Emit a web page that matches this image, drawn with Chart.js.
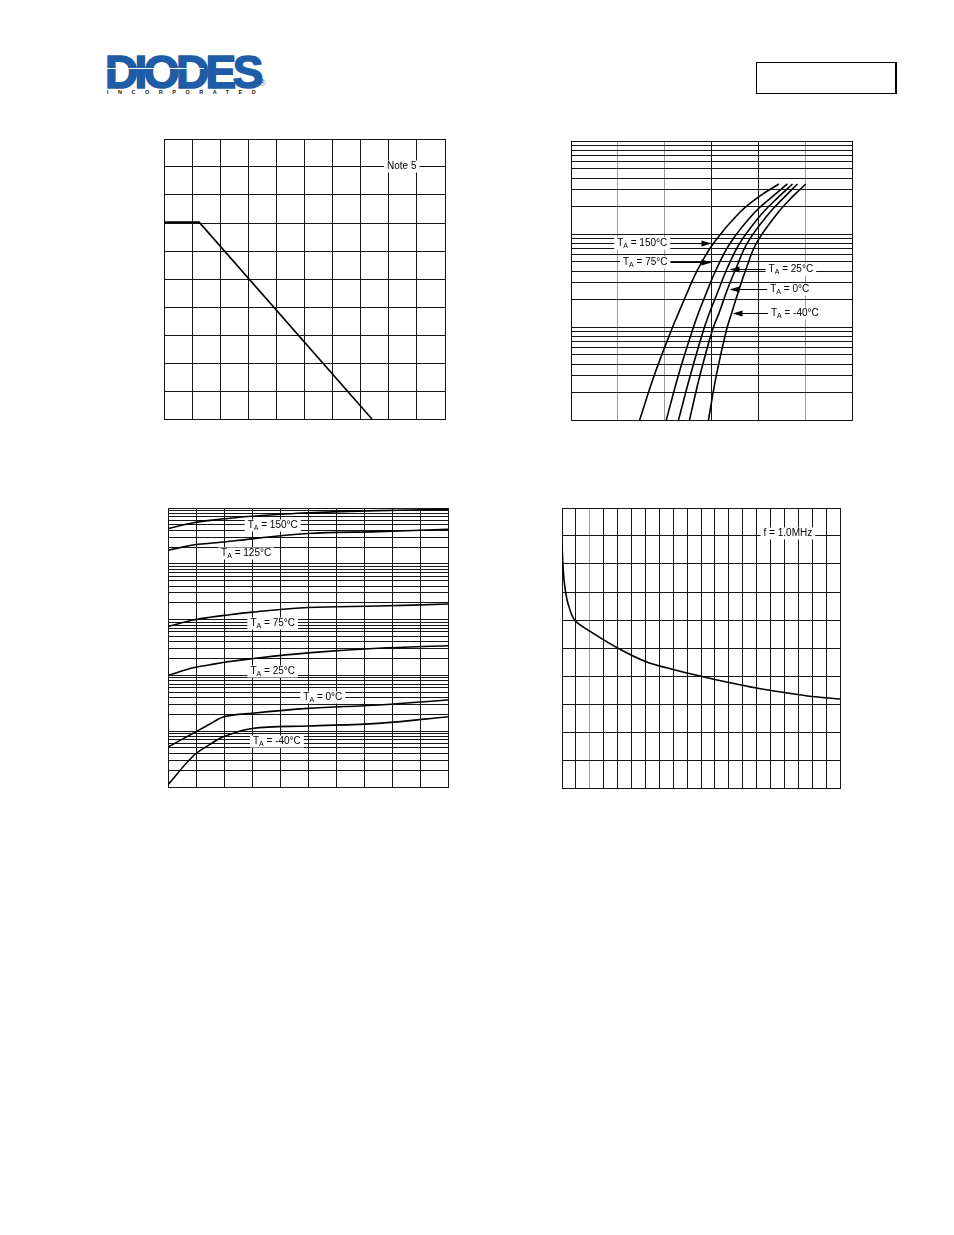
<!DOCTYPE html>
<html>
<head>
<meta charset="utf-8">
<script src="https://cdn.jsdelivr.net/npm/chart.js@4.4.1/dist/chart.umd.min.js"></script>
<style>
html,body{margin:0;padding:0;background:#fff;}
body{width:954px;height:1235px;position:relative;overflow:hidden;font-family:"Liberation Sans",Arial,sans-serif;}
.cw{position:absolute;}
.cw canvas{display:block;}
#logo{position:absolute;left:105px;top:49px;font-weight:bold;font-size:46px;line-height:46px;color:#1f5ca6;-webkit-text-stroke:1.6px #1f5ca6;letter-spacing:-3.6px;white-space:nowrap;}
#stripe{position:absolute;left:104px;top:68px;width:100px;height:1px;background:#fff;}
#inc{position:absolute;left:107px;top:89px;font-weight:bold;font-size:5.5px;line-height:6px;color:#222;letter-spacing:9.5px;white-space:nowrap;}
#reg{position:absolute;left:259px;top:79px;font-size:9px;line-height:9px;color:#1f5ca6;}
#pbox{position:absolute;left:756px;top:62px;width:138px;height:30px;border:1px solid #000;border-right-width:2px;}
</style>
</head>
<body>
<div id="logo">DIODES</div>
<div id="stripe"></div>
<div id="inc">INCORPORATED</div>
<div id="reg">®</div>
<div id="pbox"></div>

<div class="cw" style="left:160px;top:135px;"><canvas id="c1" width="289" height="288"></canvas></div>
<div class="cw" style="left:567px;top:137px;"><canvas id="c2" width="289" height="287"></canvas></div>
<div class="cw" style="left:164px;top:504px;"><canvas id="c3" width="288" height="287"></canvas></div>
<div class="cw" style="left:558px;top:504px;"><canvas id="c4" width="286" height="288"></canvas></div>

<script>
// ---------------- DATA ----------------
// Chart 1: power derating
const deratingTemp = [0, 25, 148];
const deratingPower = [703, 703, 0];
const noteText = 'Note 5';

// Chart 2: forward characteristics (current levels shared, voltage per temperature)
const fwdCurrent = [1, 3.05, 9.3, 14.1, 25, 41, 80.6, 167, 252, 345];
const fwdV150 = [0.293, 0.356, 0.429, 0.459, 0.501, 0.540, 0.610, 0.717, 0.803, 0.888];
const fwdV75  = [0.407, 0.459, 0.519, 0.544, 0.583, 0.619, 0.681, 0.781, 0.860, 0.924];
const fwdV25  = [0.459, 0.510, 0.566, 0.591, 0.630, 0.664, 0.722, 0.817, 0.888, 0.946];
const fwdV0   = [0.506, 0.551, 0.604, 0.632, 0.667, 0.702, 0.754, 0.846, 0.913, 0.967];
const fwdVm40 = [0.587, 0.621, 0.664, 0.686, 0.717, 0.746, 0.793, 0.882, 0.946, 1.003];
const fwdTemps = ['150°C', '75°C', '25°C', '0°C', '-40°C'];

// Chart 3: reverse current vs reverse voltage
const revVoltage = [0, 9, 15, 20, 30, 50, 75, 100];
const revI150 = [43, 54.5, 60, 64, 71, 82, 89.6, 94.8];
const revI125 = [17.5, 21.7, 23.3, 24.6, 28, 35, 37.7, 41.5];
const revI75  = [0.75, 0.98, 1.1, 1.19, 1.36, 1.65, 1.75, 1.9];
const revI25  = [0.1, 0.137, 0.155, 0.172, 0.2, 0.253, 0.306, 0.34];
const revI0   = [0.0052, 0.0092, 0.0135, 0.0182, 0.021, 0.0256, 0.0295, 0.0362];
const revIm40 = [0.0011, 0.0036, 0.0058, 0.0080, 0.0112, 0.0124, 0.0138, 0.0182];
const revTemps = ['150°C', '125°C', '75°C', '25°C', '0°C', '-40°C'];

// Chart 4: capacitance vs reverse voltage
const capVoltage = [0, 0.15, 0.4, 0.85, 1.8, 4, 8, 12, 16, 20, 24, 28, 32, 36, 40];
const capValue = [8.75, 7.9, 7.2, 6.6, 6.0, 5.6, 5.0, 4.52, 4.23, 3.99, 3.77, 3.57, 3.41, 3.27, 3.18];
const freqText = 'f = 1.0MHz';

// log grid mantissas
const mantissas = [1, 2, 3, 4, 5, 6, 7, 8, 9];

// ---------------- HELPERS ----------------
function logTicks(minExp, maxExp) {
  const t = [];
  for (let e = minExp; e < maxExp; e++) mantissas.forEach(m => t.push(+(m * Math.pow(10, e)).toPrecision(4)));
  t.push(+Math.pow(10, maxExp).toPrecision(4));
  return t;
}
function pts(xs, ys) { return xs.map((x, i) => ({x: x, y: ys[i]})); }
function curve(data, tension) {
  return {data: data, borderColor: '#000', borderWidth: 1.6, pointRadius: 0, fill: false, tension: tension === undefined ? 0.35 : tension};
}
const GRID = '#161616';
function axis(o) {
  const a = {
    type: o.type || 'linear', min: o.min, max: o.max,
    ticks: {display: false},
    grid: {color: o.gridColor || GRID, lineWidth: 1, drawTicks: false},
    border: {display: true, color: GRID, width: 1}
  };
  if (o.step) a.ticks.stepSize = o.step;
  if (o.tickList) a.afterBuildTicks = s => { s.ticks = o.tickList.map(v => ({value: v})); };
  return a;
}
function tLabel(temp) { return [{t: 'T'}, {t: 'A', sub: true}, {t: ' = ' + temp}]; }

const MAINF = '10px "Liberation Sans", Arial, sans-serif';
const SUBF = '7px "Liberation Sans", Arial, sans-serif';

const annotPlugin = {
  id: 'annot',
  afterDatasetsDraw(chart, args, opts) {
    const items = (opts && opts.items) || [];
    const ctx = chart.ctx, xs = chart.scales.x, ys = chart.scales.y;
    ctx.save();
    items.forEach(it => {
      const py = Math.round(ys.getPixelForValue(it.y)) + 0.5;
      if (it.arrow) {
        const a1 = xs.getPixelForValue(it.arrow[0]), a2 = xs.getPixelForValue(it.arrow[1]);
        const d = Math.sign(a2 - a1);
        ctx.strokeStyle = '#000'; ctx.lineWidth = 1;
        ctx.beginPath(); ctx.moveTo(a1, py); ctx.lineTo(a2 - d * 8, py); ctx.stroke();
        ctx.fillStyle = '#000';
        ctx.beginPath(); ctx.moveTo(a2, py); ctx.lineTo(a2 - d * 10, py - 3); ctx.lineTo(a2 - d * 10, py + 3); ctx.closePath(); ctx.fill();
      }
      let w = 0;
      it.parts.forEach(p => { ctx.font = p.sub ? SUBF : MAINF; p.w = ctx.measureText(p.t).width; w += p.w; });
      const cx = xs.getPixelForValue(it.x);
      const x0 = cx - w / 2;
      ctx.fillStyle = '#fff';
      ctx.fillRect(x0 - 3, py - 6, w + 6, 12);
      ctx.fillStyle = '#000'; ctx.textBaseline = 'middle'; ctx.textAlign = 'left';
      let x = x0;
      it.parts.forEach(p => { ctx.font = p.sub ? SUBF : MAINF; ctx.fillText(p.t, x, py + (p.sub ? 3 : 0)); x += p.w; });
    });
    ctx.restore();
  }
};
Chart.register(annotPlugin);

function baseOpts(scales, items) {
  return {
    responsive: false, animation: false, devicePixelRatio: 1,
    layout: {padding: 4},
    plugins: {legend: {display: false}, tooltip: {enabled: false}, annot: {items: items}},
    scales: scales
  };
}

// ---------------- CHART 1 ----------------
new Chart(document.getElementById('c1'), {
  type: 'line',
  data: {datasets: [{data: pts(deratingTemp, deratingPower), borderColor: '#000', borderWidth: 1.6, pointRadius: 0, tension: 0, fill: false}]},
  options: baseOpts({
    x: axis({min: 0, max: 200, step: 20}),
    y: axis({min: 0, max: 1000, step: 100})
  }, [{x: 169.2, y: 905, parts: [{t: noteText}]}])
});

// ---------------- CHART 2 ----------------
const grayX2 = [1, 2, 5];
new Chart(document.getElementById('c2'), {
  type: 'line',
  data: {datasets: [
    curve(pts(fwdV150, fwdCurrent), 0.4), curve(pts(fwdV75, fwdCurrent), 0.4), curve(pts(fwdV25, fwdCurrent), 0.4),
    curve(pts(fwdV0, fwdCurrent), 0.4), curve(pts(fwdVm40, fwdCurrent), 0.4)
  ]},
  options: baseOpts({
    x: axis({min: 0, max: 1.2, step: 0.2, gridColor: c => grayX2.includes(c.index) ? '#9c9c9c' : GRID}),
    y: axis({type: 'logarithmic', min: 1, max: 1000, tickList: logTicks(0, 3)})
  }, [
    {x: 0.304, y: 81, parts: tLabel(fwdTemps[0]), arrow: [0.40, 0.600]},
    {x: 0.317, y: 50, parts: tLabel(fwdTemps[1]), arrow: [0.40, 0.600]},
    {x: 0.939, y: 42, parts: tLabel(fwdTemps[2]), arrow: [0.85, 0.677]},
    {x: 0.934, y: 25.5, parts: tLabel(fwdTemps[3]), arrow: [0.85, 0.677]},
    {x: 0.956, y: 14, parts: tLabel(fwdTemps[4]), arrow: [0.86, 0.690]}
  ])
});

// ---------------- CHART 3 ----------------
new Chart(document.getElementById('c3'), {
  type: 'line',
  data: {datasets: [
    curve(pts(revVoltage, revI150)), curve(pts(revVoltage, revI125)), curve(pts(revVoltage, revI75)),
    curve(pts(revVoltage, revI25)), curve(pts(revVoltage, revI0)), curve(pts(revVoltage, revIm40))
  ]},
  options: baseOpts({
    x: axis({min: 0, max: 100, step: 10}),
    y: axis({type: 'logarithmic', min: 0.001, max: 100, tickList: logTicks(-3, 2)})
  }, [
    {x: 37.4, y: 49.6, parts: tLabel(revTemps[0])},
    {x: 27.9, y: 15.4, parts: tLabel(revTemps[1])},
    {x: 37.4, y: 0.859, parts: tLabel(revTemps[2])},
    {x: 37.4, y: 0.121, parts: tLabel(revTemps[3])},
    {x: 55.3, y: 0.0405, parts: tLabel(revTemps[4])},
    {x: 38.9, y: 0.00676, parts: tLabel(revTemps[5])}
  ])
});

// ---------------- CHART 4 ----------------
new Chart(document.getElementById('c4'), {
  type: 'line',
  data: {datasets: [curve(pts(capVoltage, capValue), 0.3)]},
  options: baseOpts({
    x: axis({min: 0, max: 40, step: 2, gridColor: c => c.index === 2 ? '#9c9c9c' : GRID}),
    y: axis({min: 0, max: 10, step: 1})
  }, [{x: 32.5, y: 9.09, parts: [{t: freqText}]}])
});
</script>
</body>
</html>
